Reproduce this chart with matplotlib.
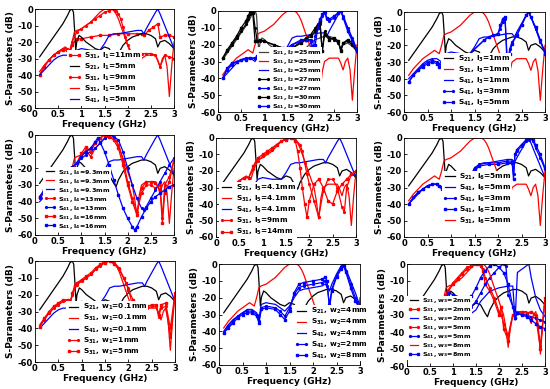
import matplotlib
matplotlib.use("Agg")
import matplotlib.pyplot as plt

plt.rcParams.update({
    "font.family": "DejaVu Sans",
    "font.weight": "bold",
    "mathtext.default": "bf",
    "axes.unicode_minus": False,
})

# ---- shared axis data ----
XTICKS = [0, 0.5, 1, 1.5, 2, 2.5, 3]
XTICK_LABELS = ["0", "0.5", "1", "1.5", "2", "2.5", "3"]
YTICKS = [0, -10, -20, -30, -40, -50, -60]

# ---- base design curves (S21, S31, S41) ----
F_S21 = [0.1, 0.2, 0.3, 0.4, 0.5, 0.6, 0.7, 0.75, 0.8, 0.83, 0.86, 0.88, 0.9, 0.95,
         1.0, 1.1, 1.2, 1.3, 1.4, 1.5, 1.6, 1.7, 1.75, 1.8, 1.9, 2.0, 2.1, 2.2, 2.3,
         2.4, 2.5, 2.6, 2.65, 2.7, 2.8, 2.9, 3.0]
S21 = [-29, -25, -21, -17, -13, -9, -4, -1, 0, -2, -15, -25, -20, -16,
       -17, -20, -22, -24, -25, -23, -24, -29, -31, -27, -22, -19, -17, -16, -15,
       -15, -16, -18, -23, -20, -19, -21, -24]

F_S31 = [0.1, 0.2, 0.3, 0.4, 0.5, 0.6, 0.65, 0.7, 0.75, 0.8, 0.85, 0.9, 1.0, 1.1, 1.2,
         1.3, 1.4, 1.5, 1.6, 1.65, 1.7, 1.75, 1.8, 1.85, 1.9, 1.95, 2.0, 2.05, 2.1, 2.15,
         2.2, 2.25, 2.3, 2.4, 2.5, 2.6, 2.65, 2.7, 2.75, 2.8, 2.85, 2.9, 2.95, 3.0]
S31 = [-38, -34, -31, -28, -26, -24, -23, -24, -25, -20, -14, -13, -12, -10, -8,
       -5, -2, 0, 0, 0, -1, -3, -6, -10, -14, -18, -22, -26, -30, -38,
       -49, -36, -30, -28, -28, -28, -31, -35, -30, -28, -35, -53, -35, -20]

F_S41 = [0.1, 0.2, 0.3, 0.4, 0.5, 0.6, 0.7, 0.75, 0.8, 0.85, 0.9, 1.0, 1.2, 1.4, 1.5,
         1.6, 1.7, 1.8, 2.0, 2.2, 2.3, 2.35, 2.4, 2.5, 2.6, 2.65, 2.7, 2.8, 2.9, 3.0]
S41 = [-40, -37, -34, -31, -29, -28, -28, -29, -30, -27, -25, -24, -25, -25, -21,
       -16, -15, -15, -14, -13, -13, -15, -12, -7, -2, 0, -3, -10, -17, -24]

# ---- panel 1: l1 ----
P1_F_L11 = [0.1, 0.2, 0.3, 0.4, 0.5, 0.6, 0.7, 0.75, 0.8, 0.9, 1.0, 1.2, 1.4, 1.6, 1.8,
            2.0, 2.2, 2.3, 2.35, 2.45, 2.55, 2.65, 2.7, 2.8, 2.9, 3.0]
P1_S31_L11 = [-40, -35, -31, -28, -26, -25, -25, -28, -22, -18, -18, -17, -16, -16, -15,
              -15, -15, -15, -16, -13, -11, -9, -17, -16, -16, -17]
P1_F_L9 = [0.1, 0.2, 0.3, 0.4, 0.5, 0.6, 0.7, 0.75, 0.8, 0.9, 1.0, 1.1, 1.2, 1.3, 1.4,
           1.5, 1.6, 1.7, 1.75, 1.8, 1.85, 1.9, 1.95, 2.0, 2.1, 2.2, 2.3, 2.4, 2.5, 2.6,
           2.7, 2.8, 2.9, 3.0]
P1_S31_L9 = [-40, -35, -31, -28, -26, -24, -24, -27, -20, -14, -12, -10, -8, -6, -4,
             -2, -1, 0, -1, -3, -6, -11, -17, -22, -27, -28, -27, -27, -27, -28,
             -35, -28, -29, -30]

# ---- panel 2: l2 ----
P2_F_S21_27 = [0.1, 0.2, 0.3, 0.4, 0.5, 0.6, 0.65, 0.7, 0.73, 0.76, 0.8, 0.85, 0.9, 1.0,
               1.2, 1.4, 1.6, 1.8, 1.9, 2.0, 2.1, 2.15, 2.2, 2.25, 2.3, 2.4, 2.5, 2.6,
               2.65, 2.7, 2.8, 2.9, 3.0]
P2_S21_27 = [-28, -24, -20, -16, -12, -8, -5, -2, 0, -1, -10, -18, -18, -18,
             -20, -22, -22, -18, -16, -14, -10, -8, -7, -24, -12, -16, -17, -19,
             -23, -19, -18, -20, -24]
P2_F_S21_30 = [0.1, 0.2, 0.3, 0.4, 0.5, 0.6, 0.65, 0.7, 0.75, 0.8, 0.85, 0.9, 1.0, 1.2,
               1.4, 1.6, 1.8, 1.9, 2.0, 2.1, 2.15, 2.2, 2.25, 2.3, 2.4, 2.5, 2.6, 2.65,
               2.7, 2.8, 2.9, 3.0]
P2_S21_30 = [-28, -23, -19, -15, -10, -6, -3, 0, -1, -18, -18, -17, -18, -20,
             -22, -22, -19, -17, -15, -12, -9, -6, -24, -14, -17, -16, -18, -24,
             -19, -17, -19, -24]
P2_F_S41_27 = [0.1, 0.2, 0.3, 0.4, 0.5, 0.6, 0.7, 0.8, 0.85, 0.9, 1.0, 1.2, 1.4, 1.6,
               1.8, 1.9, 2.0, 2.05, 2.1, 2.2, 2.25, 2.3, 2.35, 2.4, 2.5, 2.6, 2.65,
               2.7, 2.8, 2.9, 3.0]
P2_S41_27 = [-40, -35, -32, -30, -29, -28, -28, -28, -27, -25, -24, -24, -24, -20,
             -18, -17, -17, -22, -15, -8, -3, -1, -5, -6, -4, -1, 0,
             -3, -10, -16, -23]
P2_F_S41_30 = [0.1, 0.2, 0.3, 0.4, 0.5, 0.6, 0.7, 0.8, 0.85, 0.9, 1.0, 1.2, 1.4, 1.6,
               1.8, 1.9, 2.0, 2.05, 2.1, 2.15, 2.2, 2.25, 2.3, 2.35, 2.4, 2.5, 2.6,
               2.65, 2.7, 2.8, 2.9, 3.0]
P2_S41_30 = [-40, -34, -31, -30, -29, -29, -28, -28, -27, -25, -24, -24, -24, -20,
             -17, -17, -18, -29, -20, -10, -5, -2, 0, -4, -5, -3, -1,
             0, -4, -12, -18, -24]

# ---- panel 3: l3 ----
P3_F = [0.1, 0.2, 0.3, 0.4, 0.5, 0.6, 0.7, 0.75, 0.8, 1.0, 1.4, 1.7, 1.8, 1.9, 2.0,
        2.05, 2.1, 2.15, 2.2, 2.25, 2.3, 2.4, 2.5, 2.6, 2.65, 2.7, 2.8, 2.9, 3.0]
P3_S41_3 = [-42, -38, -35, -32, -30, -29, -30, -31, -30, -27, -25, -17, -15, -14, -13,
            -10, -6, -4, -30, -22, -18, -14, -8, -2, 0, -3, -10, -18, -24]
P3_S41_5 = [-42, -38, -35, -33, -31, -30, -31, -33, -32, -27, -25, -17, -15, -14, -13,
            -8, -4, -3, -37, -25, -19, -14, -8, -2, 0, -3, -9, -17, -25]

# ---- panel 4: l4 ----
P4_F_S31 = [0.1, 0.2, 0.3, 0.4, 0.5, 0.6, 0.7, 0.8, 0.9, 1.0, 1.1, 1.2, 1.3, 1.4, 1.5,
            1.6, 1.7, 1.8, 1.9, 2.0, 2.1, 2.2, 2.3, 2.4, 2.5, 2.6, 2.7, 2.75, 2.8, 2.9, 3.0]
P4_S31_13 = [-38, -34, -31, -28, -26, -24, -24, -20, -17, -12, -9, -13, -8, -5, -2,
             -1, -2, -6, -15, -28, -38, -46, -35, -30, -30, -32, -30, -50, -30, -25, -15]
P4_S31_16 = [-37, -33, -30, -28, -26, -24, -23, -20, -17, -11, -7, -10, -5, -2, 0,
             -1, -3, -8, -18, -30, -40, -48, -32, -28, -28, -29, -33, -53, -35, -28, -15]
P4_F_S41_13 = [0.1, 0.2, 0.3, 0.4, 0.5, 0.6, 0.7, 0.8, 0.9, 1.0, 1.1, 1.2, 1.3, 1.4, 1.5,
               1.6, 1.7, 1.8, 1.9, 2.0, 2.1, 2.2, 2.3, 2.35, 2.4, 2.5, 2.6, 2.7, 2.8,
               2.9, 3.0]
P4_S41_13 = [-38, -34, -31, -28, -26, -24, -22, -20, -17, -14, -12, -10, -8, -5, -2,
             0, -1, -3, -10, -20, -30, -38, -44, -45, -43, -38, -33, -28, -23,
             -18, -14]
P4_F_S41_16 = [0.1, 0.2, 0.3, 0.4, 0.5, 0.6, 0.7, 0.8, 0.9, 1.0, 1.1, 1.2, 1.3, 1.35,
               1.4, 1.5, 1.6, 1.7, 1.8, 1.9, 2.0, 2.1, 2.15, 2.2, 2.3, 2.4, 2.5, 2.6,
               2.7, 2.8, 2.9, 3.0]
P4_S41_16 = [-37, -33, -30, -27, -25, -23, -21, -19, -17, -13, -10, -8, -4, -2,
             -4, -10, -18, -27, -36, -44, -50, -55, -57, -55, -49, -44, -40, -37,
             -35, -33, -31, -30]

# ---- panel 5: l5 ----
P5_F_9 = [0.1, 0.2, 0.3, 0.4, 0.5, 0.6, 0.7, 0.8, 0.9, 1.0, 1.1, 1.2, 1.3, 1.4, 1.5,
          1.6, 1.7, 1.8, 1.85, 1.9, 1.95, 2.0, 2.1, 2.2, 2.3, 2.4, 2.5, 2.6, 2.7, 2.75,
          2.8, 2.9, 3.0]
P5_S31_9 = [-38, -34, -31, -28, -26, -24, -24, -19, -14, -11, -9, -7, -4, -2, -1,
            0, -1, -4, -8, -15, -22, -28, -38, -48, -32, -25, -25, -30, -42, -45,
            -30, -22, -20]
P5_F_14 = [0.1, 0.2, 0.3, 0.4, 0.5, 0.6, 0.7, 0.8, 0.9, 1.0, 1.1, 1.2, 1.3, 1.4, 1.5,
           1.6, 1.65, 1.7, 1.75, 1.8, 1.85, 1.9, 1.95, 2.0, 2.1, 2.2, 2.3, 2.4, 2.5,
           2.6, 2.7, 2.8, 2.9, 3.0]
P5_S31_14 = [-38, -34, -31, -28, -26, -24, -24, -17, -12, -10, -8, -6, -4, -2, -1,
             0, 0, -2, -8, -18, -30, -40, -48, -38, -28, -25, -30, -38, -40,
             -32, -28, -25, -22, -20]

# ---- panel 6: l6 ----
P6_F = [0.1, 0.2, 0.3, 0.4, 0.5, 0.6, 0.7, 0.75, 0.8, 1.0, 1.4, 1.5, 1.6, 1.8, 2.0,
        2.2, 2.3, 2.33, 2.36, 2.4, 2.5, 2.6, 2.65, 2.7, 2.75, 2.8, 2.9, 3.0]
P6_S41_3 = [-40, -36, -33, -31, -29, -28, -28, -29, -30, -26, -24, -18, -16, -15, -15,
            -14, -14, -22, -10, -8, -5, -2, -1, 0, -2, -6, -12, -19]
P6_S41_1 = [-40, -36, -33, -31, -29, -28, -28, -29, -31, -26, -24, -19, -17, -16, -16,
            -15, -15, -25, -10, -7, -4, -1, 0, 0, -1, -4, -10, -18]

# ---- panel 7: w1 ----
P7_F_1 = [0.1, 0.2, 0.3, 0.4, 0.5, 0.6, 0.7, 0.75, 0.8, 0.9, 1.0, 1.1, 1.2, 1.3, 1.4,
          1.5, 1.6, 1.7, 1.8, 1.9, 2.0, 2.1, 2.2, 2.3, 2.4, 2.5, 2.6, 2.65, 2.7, 2.8,
          2.9, 3.0]
P7_S31_1 = [-39, -35, -31, -28, -26, -24, -24, -26, -20, -14, -12, -10, -8, -5, -3,
            -1, 0, -1, -4, -10, -16, -28, -45, -32, -28, -27, -27, -33, -28, -27,
            -45, -20]
P7_F_5 = [0.1, 0.2, 0.3, 0.4, 0.5, 0.6, 0.7, 0.75, 0.8, 0.9, 1.0, 1.1, 1.2, 1.3, 1.4,
          1.5, 1.6, 1.7, 1.8, 1.9, 1.95, 2.0, 2.1, 2.2, 2.3, 2.4, 2.5, 2.6, 2.65, 2.7,
          2.8, 2.9, 3.0]
P7_S31_5 = [-39, -34, -30, -27, -25, -23, -23, -25, -19, -13, -11, -9, -7, -4, -2,
            -1, 0, -2, -5, -10, -13, -17, -23, -35, -28, -27, -26, -26, -32, -26,
            -25, -40, -19]

# ---- panel 8: w2 ----
P8_F = [0.1, 0.2, 0.3, 0.4, 0.5, 0.6, 0.7, 0.8, 0.85, 0.9, 1.0, 1.2, 1.3, 1.4, 1.5,
        1.6, 1.7, 1.8, 2.0, 2.2, 2.25, 2.3, 2.35, 2.4, 2.5, 2.6, 2.65, 2.7, 2.8, 2.9, 3.0]
P8_S41_4 = [-40, -36, -33, -31, -29, -27, -27, -29, -33, -24, -23, -24, -26, -28, -25,
            -20, -16, -15, -14, -13, -12, -13, -16, -12, -6, -1, 0, -3, -10, -17, -25]
P8_S41_2 = [-41, -37, -34, -31, -29, -28, -28, -30, -34, -26, -25, -26, -28, -31, -26,
            -18, -14, -13, -12, -11, -10, -13, -24, -15, -7, -2, 0, -4, -12, -20, -27]
P8_S41_8 = [-41, -38, -35, -32, -30, -29, -29, -31, -35, -27, -26, -27, -30, -33, -28,
            -17, -12, -11, -10, -9, -8, -10, -27, -16, -8, -3, -1, -5, -14, -22, -27]

# ---- panel 9: w3 ----
P9_F_S31 = [0.1, 0.2, 0.3, 0.4, 0.5, 0.6, 0.7, 0.8, 0.9, 1.0, 1.1, 1.2, 1.3, 1.4, 1.5,
            1.55, 1.6, 1.65, 1.7, 1.8, 1.9, 2.0, 2.05, 2.1, 2.2, 2.3, 2.4, 2.5, 2.6,
            2.7, 2.8, 2.9, 3.0]
P9_S31_2 = [-38, -34, -31, -28, -26, -24, -24, -20, -16, -12, -9, -6, -3, -1, 0,
            0, -1, -4, -12, -16, -22, -30, -25, -38, -45, -30, -29, -28, -29,
            -28, -31, -50, -20]
P9_S31_5 = [-38, -34, -31, -28, -26, -24, -24, -20, -15, -11, -8, -5, -2, -1, 0,
            0, -1, -3, -8, -14, -20, -28, -30, -35, -42, -30, -29, -29, -30,
            -28, -30, -48, -21]
P9_F_S41_2 = [0.1, 0.2, 0.3, 0.4, 0.5, 0.6, 0.7, 0.8, 0.9, 1.0, 1.2, 1.4, 1.5, 1.6,
              1.8, 2.0, 2.2, 2.3, 2.35, 2.4, 2.5, 2.6, 2.65, 2.7, 2.8, 2.9, 3.0]
P9_S41_2 = [-40, -36, -33, -30, -28, -27, -27, -28, -22, -23, -25, -29, -27, -22,
            -16, -14, -13, -13, -33, -5, -3, -1, 0, -8, -20, -27, -31]
P9_F_S41_5 = [0.1, 0.2, 0.3, 0.4, 0.5, 0.6, 0.7, 0.8, 0.9, 1.0, 1.2, 1.4, 1.5, 1.6,
              1.7, 1.8, 1.9, 2.0, 2.1, 2.15, 2.2, 2.3, 2.4, 2.5, 2.6, 2.7, 2.8, 2.9, 3.0]
P9_S41_5 = [-40, -36, -33, -30, -28, -27, -27, -28, -20, -21, -23, -25, -22, -17,
            -12, -8, -5, -2, 0, -1, -18, -25, -29, -30, -30, -31, -32, -33, -34]
P9_F_S41_8 = [0.1, 0.2, 0.3, 0.4, 0.5, 0.6, 0.7, 0.8, 0.9, 1.0, 1.2, 1.3, 1.4, 1.5,
              1.6, 1.7, 1.8, 1.9, 2.0, 2.1, 2.2, 2.3, 2.35, 2.4, 2.5, 2.6, 2.7, 2.8,
              2.9, 3.0]
P9_S41_8 = [-40, -36, -33, -30, -28, -27, -27, -28, -17, -18, -20, -21, -19, -14,
            -8, -4, -1, 0, -2, -5, -12, -25, -32, -29, -30, -31, -33, -35, -37, -38]

R, B, K = "#ff0000", "#0000ff", "#000000"
STYLE = {
    "-": {},
    "dot": dict(marker=".", ms=2.6),
    "sq": dict(marker="s", ms=1.5),
}

PANELS = [
    # (curves, legend anchor)
    ([(P1_F_L11, P1_S31_L11, R, "sq", r"S$_{31}$, l$_{1}$=11mm"),
      (F_S21, S21, K, "-", r"S$_{21}$, l$_{1}$=5mm"),
      (P1_F_L9, P1_S31_L9, R, "dot", r"S$_{31}$, l$_{1}$=9mm"),
      (F_S31, S31, R, "-", r"S$_{31}$, l$_{1}$=5mm"),
      (F_S41, S41, B, "-", r"S$_{41}$, l$_{1}$=5mm")], (0.23, 0.59)),
    ([(F_S21, S21, "#404040", "-", r"S$_{21}$, l$_{2}$=25mm"),
      (F_S31, S31, R, "-", r"S$_{31}$, l$_{2}$=25mm"),
      (F_S41, S41, B, "-", r"S$_{41}$, l$_{2}$=25mm"),
      (P2_F_S21_27, P2_S21_27, K, "dot", r"S$_{21}$, l$_{2}$=27mm"),
      (P2_F_S41_27, P2_S41_27, B, "dot", r"S$_{41}$, l$_{2}$=27mm"),
      (P2_F_S21_30, P2_S21_30, K, "sq", r"S$_{21}$, l$_{2}$=30mm"),
      (P2_F_S41_30, P2_S41_30, B, "sq", r"S$_{41}$, l$_{2}$=30mm")], (0.28, 0.64)),
    ([(F_S21, S21, K, "-", r"S$_{21}$, l$_{3}$=1mm"),
      (F_S31, S31, R, "-", r"S$_{31}$, l$_{3}$=1mm"),
      (F_S41, S41, B, "-", r"S$_{41}$, l$_{3}$=1mm"),
      (P3_F, P3_S41_3, B, "dot", r"S$_{41}$, l$_{3}$=3mm"),
      (P3_F, P3_S41_5, B, "sq", r"S$_{41}$, l$_{3}$=5mm")], (0.26, 0.59)),
    ([(F_S21, S21, K, "-", r"S$_{21}$, l$_{4}$=9.3mm"),
      (F_S31, S31, R, "-", r"S$_{31}$, l$_{4}$=9.3mm"),
      (F_S41, S41, B, "-", r"S$_{41}$, l$_{4}$=9.3mm"),
      (P4_F_S31, P4_S31_13, R, "dot", r"S$_{31}$, l$_{4}$=13mm"),
      (P4_F_S41_13, P4_S41_13, B, "dot", r"S$_{41}$, l$_{4}$=13mm"),
      (P4_F_S31, P4_S31_16, R, "sq", r"S$_{31}$, l$_{4}$=16mm"),
      (P4_F_S41_16, P4_S41_16, B, "sq", r"S$_{41}$, l$_{4}$=16mm")], (0.06, 0.68)),
    ([(F_S21, S21, K, "-", r"S$_{21}$, l$_{5}$=4.1mm"),
      (F_S31, S31, R, "-", r"S$_{31}$, l$_{5}$=4.1mm"),
      (F_S41, S41, B, "-", r"S$_{41}$, l$_{5}$=4.1mm"),
      (P5_F_9, P5_S31_9, R, "dot", r"S$_{31}$, l$_{5}$=9mm"),
      (P5_F_14, P5_S31_14, R, "sq", r"S$_{31}$, l$_{5}$=14mm")], (0.02, 0.555)),
    ([(F_S21, S21, K, "-", r"S$_{21}$, l$_{6}$=5mm"),
      (F_S41, S41, B, "-", r"S$_{41}$, l$_{6}$=5mm"),
      (P6_F, P6_S41_3, B, "dot", r"S$_{41}$, l$_{6}$=3mm"),
      (P6_F, P6_S41_1, B, "sq", r"S$_{41}$, l$_{6}$=1mm"),
      (F_S31, S31, R, "-", r"S$_{31}$, l$_{6}$=5mm")], (0.27, 0.67)),
    ([(F_S21, S21, K, "-", r"S$_{21}$, w$_{1}$=0.1mm"),
      (F_S31, S31, R, "-", r"S$_{31}$, w$_{1}$=0.1mm"),
      (F_S41, S41, B, "-", r"S$_{41}$, w$_{1}$=0.1mm"),
      (P7_F_1, P7_S31_1, R, "dot", r"S$_{31}$, w$_{1}$=1mm"),
      (P7_F_5, P7_S31_5, R, "sq", r"S$_{31}$, w$_{1}$=5mm")], (0.22, 0.60)),
    ([(F_S21, S21, K, "-", r"S$_{21}$, w$_{2}$=4mm"),
      (F_S31, S31, R, "-", r"S$_{31}$, w$_{2}$=4mm"),
      (P8_F, P8_S41_4, B, "-", r"S$_{41}$, w$_{2}$=4mm"),
      (P8_F, P8_S41_2, B, "dot", r"S$_{41}$, w$_{2}$=2mm"),
      (P8_F, P8_S41_8, B, "sq", r"S$_{41}$, w$_{2}$=8mm")], (0.53, 0.59)),
    ([(F_S21, S21, K, "-", r"S$_{21}$, w$_{3}$=2mm"),
      (P9_F_S31, P9_S31_2, R, "sq", r"S$_{31}$, w$_{3}$=2mm"),
      (P9_F_S41_2, P9_S41_2, B, "-", r"S$_{41}$, w$_{3}$=2mm"),
      (P9_F_S31, P9_S31_5, R, "dot", r"S$_{31}$, w$_{3}$=5mm"),
      (P9_F_S41_5, P9_S41_5, B, "dot", r"S$_{41}$, w$_{3}$=5mm"),
      (F_S31, S31, R, "-", r"S$_{31}$, w$_{3}$=8mm"),
      (P9_F_S41_8, P9_S41_8, B, "sq", r"S$_{41}$, w$_{3}$=8mm")], (0.0, 0.69)),
]

# axes boxes in pixels: left, top, right, bottom
BOXES = [(35, 9, 174, 108), (218, 11, 357, 112), (404, 12, 545, 112),
         (35, 135, 174, 235), (216, 138, 356, 237), (404, 138, 545, 237),
         (35, 261, 175, 362), (219, 264, 360, 365), (407, 264, 545, 366)]
W, H = 550, 389

fig = plt.figure(figsize=(W / 100, H / 100), dpi=100)

for (curves, anchor), (x0, y0, x1, y1) in zip(PANELS, BOXES):
    ax = fig.add_axes([x0 / W, 1 - y1 / H, (x1 - x0) / W, (y1 - y0) / H])
    for f, v, color, style, label in curves:
        ax.plot(f, v, color=color, lw=0.9, label=label, **STYLE[style])

    ax.set_xlim(0, 3)
    ax.set_ylim(-60, 0)
    ax.set_xticks(XTICKS)
    ax.set_xticklabels(XTICK_LABELS)
    ax.set_yticks(YTICKS)
    ax.tick_params(direction="in", length=2, width=0.6, labelsize=6, pad=1.5)
    for s in ax.spines.values():
        s.set_linewidth(0.6)
    ax.set_xlabel("Frequency (GHz)", fontsize=6.5, fontweight="bold", labelpad=1)
    ax.set_ylabel("S-Parameters (dB)", fontsize=6.5, fontweight="bold", labelpad=2)

    n = len(curves)
    leg = ax.legend(loc="upper left", bbox_to_anchor=anchor, borderaxespad=0,
                    fontsize=5.3 if n <= 5 else 4.6,
                    frameon=True, framealpha=1, fancybox=False,
                    edgecolor="white", borderpad=0.1, handlelength=1.9,
                    handletextpad=0.3, numpoints=2,
                    labelspacing=0.12 if n <= 5 else 0.0)
    leg.get_frame().set_linewidth(0)

fig.savefig("out.png", dpi=100)
